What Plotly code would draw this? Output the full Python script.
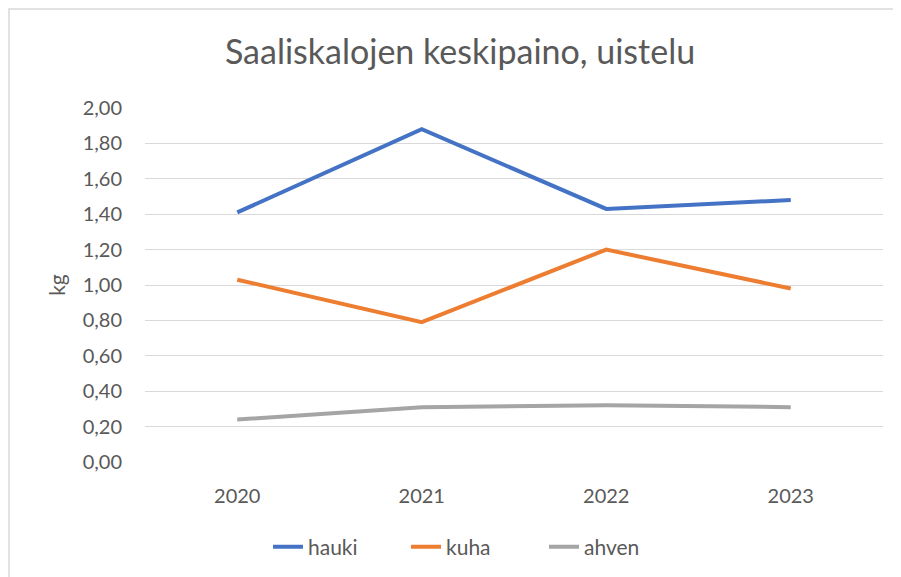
import plotly.graph_objects as go

years = ["2020", "2021", "2022", "2023"]
hauki = [1.41, 1.88, 1.43, 1.48]
kuha = [1.03, 0.79, 1.20, 0.98]
ahven = [0.24, 0.31, 0.32, 0.31]
y_ticks = [0.0, 0.2, 0.4, 0.6, 0.8, 1.0, 1.2, 1.4, 1.6, 1.8, 2.0]
y_tick_labels = [f"{v:.2f}".replace(".", ",") for v in y_ticks]

series = [("hauki", hauki, "#4472C4"), ("kuha", kuha, "#ED7D31"), ("ahven", ahven, "#A5A5A5")]

fig = go.Figure()
for name, vals, col in series:
    fig.add_trace(go.Scatter(x=years, y=vals, name=name, mode="lines",
                             line=dict(color=col, width=4)))

OFF = 8  # page body margin
W, H = 901, 577
# target positions in page pixels, converted to figure pixels
L = 145 - OFF
R = W - (883 - OFF)
T = 108 - OFF
B = H - (462 - OFF)
pw, ph = W - L - R, H - T - B


def fx(px):
    return (px - OFF - L) / pw


def fy(py):
    return (H - B - (py - OFF)) / ph


fig.update_layout(
    width=W, height=H,
    margin=dict(l=L, r=R, t=T, b=B),
    paper_bgcolor="white", plot_bgcolor="white",
    font=dict(family="Lato, Open Sans, sans-serif", color="#595959", size=20),
    title=dict(text="Saaliskalojen keskipaino, uistelu", x=(460 - OFF) / W, xanchor="center",
               y=1 - (52 - OFF) / H, yanchor="middle",
               font=dict(size=34, color="#595959")),
    xaxis=dict(type="category", range=[-0.5, 3.5], showgrid=False, showline=False,
               zeroline=False, ticks="outside", ticklen=16, tickcolor="rgba(0,0,0,0)",
               tickfont=dict(size=20, color="#595959")),
    yaxis=dict(range=[0, 2.0], tickvals=y_ticks, ticktext=y_tick_labels,
               showgrid=True, gridcolor="#D9D9D9", gridwidth=1, zeroline=False,
               showline=False, ticks="outside", ticklen=18, tickcolor="rgba(0,0,0,0)",
               tickfont=dict(size=20, color="#595959"),
               title=dict(text="kg", font=dict(size=21, color="#595959"), standoff=11)),
    legend=dict(orientation="h", x=fx(268), xanchor="left",
                y=fy(547), yanchor="middle",
                font=dict(size=21, color="#595959"),
                entrywidth=93, entrywidthmode="pixels",
                bgcolor="rgba(0,0,0,0)"),
    showlegend=True,
)

# chart border (extends beyond right/bottom edge as in the reference)
fig.add_shape(type="rect", xref="paper", yref="paper",
              x0=fx(OFF + 1), x1=fx(W + 20),
              y0=fy(H + 20), y1=fy(9),
              line=dict(color="#D9D9D9", width=1.5), fillcolor="rgba(0,0,0,0)",
              layer="below")

fig.write_html("out.html")
